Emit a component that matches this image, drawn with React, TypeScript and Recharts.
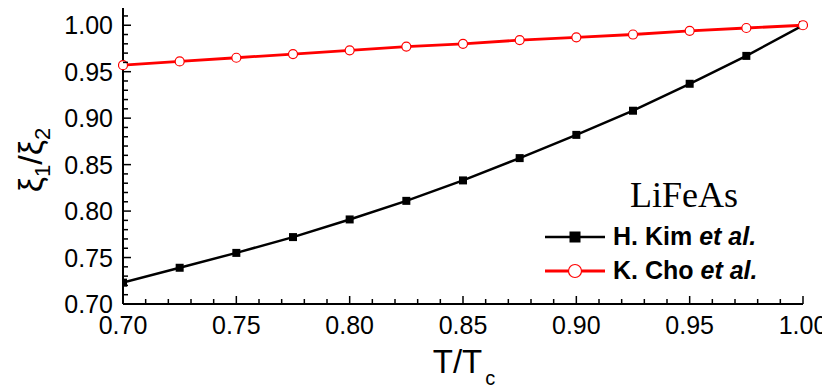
import React from 'react';
import { LineChart, Line, XAxis, YAxis, Customized } from 'recharts';

const tValues = [0.7, 0.725, 0.75, 0.775, 0.8, 0.825, 0.85, 0.875, 0.9, 0.925, 0.95, 0.975, 1.0];
const kimValues = [0.723, 0.739, 0.755, 0.772, 0.791, 0.811, 0.833, 0.857, 0.882, 0.908, 0.937, 0.967, 1.0];
const choValues = [0.957, 0.961, 0.965, 0.969, 0.973, 0.977, 0.980, 0.984, 0.987, 0.990, 0.994, 0.997, 1.0];

const xTicks = [0.70, 0.71, 0.72, 0.73, 0.74, 0.75, 0.76, 0.77, 0.78, 0.79, 0.80, 0.81, 0.82, 0.83, 0.84, 0.85, 0.86, 0.87, 0.88, 0.89, 0.90, 0.91, 0.92, 0.93, 0.94, 0.95, 0.96, 0.97, 0.98, 0.99, 1.00];
const yTicks = [0.70, 0.71, 0.72, 0.73, 0.74, 0.75, 0.76, 0.77, 0.78, 0.79, 0.80, 0.81, 0.82, 0.83, 0.84, 0.85, 0.86, 0.87, 0.88, 0.89, 0.90, 0.91, 0.92, 0.93, 0.94, 0.95, 0.96, 0.97, 0.98, 0.99, 1.00, 1.01, 1.02];
const xLabelTicks = [0.70, 0.75, 0.80, 0.85, 0.90, 0.95, 1.00];
const yLabelTicks = [0.70, 0.75, 0.80, 0.85, 0.90, 0.95, 1.00];

const seriesNames = ['H. Kim ', 'K. Cho '];
const seriesSuffix = 'et al.';
const materialLabel = 'LiFeAs';

const data = tValues.map((t, i) => ({ t, kim: kimValues[i], cho: choValues[i] }));

const SANS = '"Liberation Sans", Arial, Helvetica, sans-serif';
const SERIF = '"Liberation Serif", "Times New Roman", serif';

const isMajor = (v: number, majors: number[]) => majors.some((m) => Math.abs(m - v) < 1e-6);

const BottomTick = (props: any) => {
  const { x, y, payload } = props;
  const v = payload.value;
  const major = isMajor(v, xLabelTicks);
  return (
    <g>
      <line x1={x} x2={x} y1={y} y2={y - (major ? 8 : 5)} stroke="#000" strokeWidth={1.5} />
      {major && (
        <text x={x} y={y + 30} textAnchor="middle" fontSize={25} fontFamily={SANS} fill="#000">
          {v.toFixed(2)}
        </text>
      )}
    </g>
  );
};

const TopTick = (props: any) => {
  const { x, y, payload } = props;
  const major = isMajor(payload.value, xLabelTicks);
  return <line x1={x} x2={x} y1={y} y2={y + (major ? 8 : 5)} stroke="#000" strokeWidth={1.5} />;
};

const LeftTick = (props: any) => {
  const { x, y, payload } = props;
  const v = payload.value;
  const major = isMajor(v, yLabelTicks);
  return (
    <g>
      <line x1={x} x2={x + (major ? 8 : 5)} y1={y} y2={y} stroke="#000" strokeWidth={1.5} />
      {major && (
        <text x={x - 10} y={y} dy="0.36em" textAnchor="end" fontSize={25} fontFamily={SANS} fill="#000">
          {v.toFixed(2)}
        </text>
      )}
    </g>
  );
};

const RightTick = (props: any) => {
  const { x, y, payload } = props;
  const major = isMajor(payload.value, yLabelTicks);
  return <line x1={x} x2={x - (major ? 8 : 5)} y1={y} y2={y} stroke="#000" strokeWidth={1.5} />;
};

const SquareDot = (props: any) => {
  const { cx, cy, index } = props;
  if (cx == null || cy == null) return <g key={index} />;
  return <rect key={index} x={cx - 4} y={cy - 4} width={8} height={8} fill="#000" />;
};

const Annotations = () => (
  <g>
    {/* y-axis label */}
    <text
      x={42}
      y={160}
      transform="rotate(-90, 42, 160)"
      textAnchor="middle"
      fontSize={34}
      fontFamily={SANS}
      fill="#000"
    >
      ξ<tspan fontSize={22} dy={8}>1</tspan>
      <tspan dy={-8}>/ξ</tspan>
      <tspan fontSize={22} dy={8}>2</tspan>
    </text>
    {/* x-axis label */}
    <text x={464} y={373} textAnchor="middle" fontSize={33} fontFamily={SANS} fill="#000">
      T/T<tspan fontSize={20} dx={3} dy={12}>c</tspan>
    </text>
    {/* material label */}
    <text x={684} y={207} textAnchor="middle" fontSize={36} fontFamily={SERIF} fill="#000">
      {materialLabel}
    </text>
    {/* legend */}
    <line x1={545} x2={605} y1={237} y2={237} stroke="#000" strokeWidth={2.5} />
    <rect x={569.5} y={231.5} width={11} height={11} fill="#000" />
    <text x={613} y={245} fontSize={25} fontWeight="bold" fontFamily={SANS} fill="#000">
      {seriesNames[0]}
      <tspan fontStyle="italic">{seriesSuffix}</tspan>
    </text>
    <line x1={545} x2={605} y1={271} y2={271} stroke="#ff0000" strokeWidth={2.8} />
    <circle cx={575} cy={271} r={6.5} fill="#fff" stroke="#ff0000" strokeWidth={1.2} />
    <text x={613} y={279} fontSize={25} fontWeight="bold" fontFamily={SANS} fill="#000">
      {seriesNames[1]}
      <tspan fontStyle="italic">{seriesSuffix}</tspan>
    </text>
  </g>
);

export default function App() {
  return (
    <div style={{ margin: '-8px 0 0 -8px', width: 830, height: 390, background: '#fff' }}>
      <LineChart
        width={830}
        height={390}
        data={data}
        margin={{ top: 2, right: 27, bottom: 0, left: 0 }}
      >
        <XAxis
          dataKey="t"
          type="number"
          domain={[0.7, 1.0]}
          ticks={xTicks}
          interval={0}
          allowDataOverflow
          height={86}
          tickLine={false}
          tickSize={0}
          tickMargin={0}
          tick={<BottomTick />}
          axisLine={{ stroke: '#000', strokeWidth: 2 }}
        />
        <XAxis
          xAxisId="top"
          orientation="top"
          dataKey="t"
          type="number"
          domain={[0.7, 1.0]}
          ticks={xTicks}
          interval={0}
          allowDataOverflow
          height={0}
          tickLine={false}
          tickSize={0}
          tickMargin={0}
          tick={<TopTick />}
          axisLine={{ stroke: '#000', strokeWidth: 2 }}
        />
        <YAxis
          type="number"
          domain={[0.7, 1.025]}
          ticks={yTicks}
          interval={0}
          allowDataOverflow
          width={123}
          tickLine={false}
          tickSize={0}
          tickMargin={0}
          tick={<LeftTick />}
          axisLine={{ stroke: '#000', strokeWidth: 2 }}
        />
        <YAxis
          yAxisId="right"
          orientation="right"
          type="number"
          domain={[0.7, 1.025]}
          ticks={yTicks}
          interval={0}
          allowDataOverflow
          width={0}
          tickLine={false}
          tickSize={0}
          tickMargin={0}
          tick={<RightTick />}
          axisLine={{ stroke: '#000', strokeWidth: 2 }}
        />
        <Line
          dataKey="kim"
          stroke="#000"
          strokeWidth={2.5}
          dot={<SquareDot clipDot={false} />}
          isAnimationActive={false}
        />
        <Line
          dataKey="cho"
          stroke="#ff0000"
          strokeWidth={2.8}
          dot={{ r: 4.5, fill: '#fff', stroke: '#ff0000', strokeWidth: 1.2, clipDot: false }}
          isAnimationActive={false}
        />
        <Customized component={<Annotations />} />
      </LineChart>
    </div>
  );
}
